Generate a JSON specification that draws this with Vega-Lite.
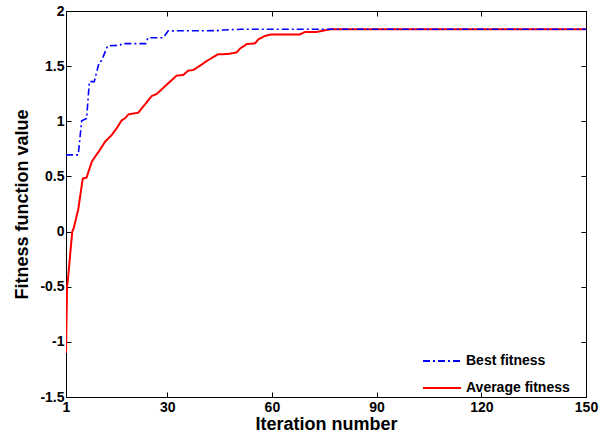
{
  "$schema": "https://vega.github.io/schema/vega-lite/v6.json",
  "width": 520,
  "height": 386,
  "autosize": {"type": "none"},
  "padding": {"left": 66, "top": 11, "right": 20, "bottom": 41},
  "background": "white",
  "config": {
    "view": {"stroke": "black", "strokeWidth": 1},
    "font": "Liberation Sans",
    "axis": {
      "grid": false,
      "domainColor": "black",
      "tickColor": "black",
      "tickSize": -5,
      "labelColor": "black",
      "labelFont": "Liberation Sans",
      "labelFontWeight": "bold",
      "labelFontSize": 14,
      "titleFont": "Liberation Sans",
      "titleFontWeight": "bold",
      "titleFontSize": 18,
      "titleColor": "black"
    },
    "legend": {
      "labelFont": "Liberation Sans",
      "labelFontWeight": "bold",
      "labelFontSize": 14,
      "labelColor": "black"
    }
  },
  "data": {
    "values": [
      {"iter": 1, "value": 0.695, "series": "Best fitness"},
      {"iter": 4.5, "value": 0.695, "series": "Best fitness"},
      {"iter": 5.5, "value": 1.005, "series": "Best fitness"},
      {"iter": 6.9, "value": 1.025, "series": "Best fitness"},
      {"iter": 7.7, "value": 1.36, "series": "Best fitness"},
      {"iter": 9.1, "value": 1.36, "series": "Best fitness"},
      {"iter": 10.5, "value": 1.535, "series": "Best fitness"},
      {"iter": 11.2, "value": 1.55, "series": "Best fitness"},
      {"iter": 12.9, "value": 1.683, "series": "Best fitness"},
      {"iter": 16.5, "value": 1.69, "series": "Best fitness"},
      {"iter": 17, "value": 1.704, "series": "Best fitness"},
      {"iter": 23.8, "value": 1.704, "series": "Best fitness"},
      {"iter": 24.5, "value": 1.758, "series": "Best fitness"},
      {"iter": 28.9, "value": 1.758, "series": "Best fitness"},
      {"iter": 30.3, "value": 1.82, "series": "Best fitness"},
      {"iter": 45, "value": 1.822, "series": "Best fitness"},
      {"iter": 46, "value": 1.828, "series": "Best fitness"},
      {"iter": 51, "value": 1.834, "series": "Best fitness"},
      {"iter": 150, "value": 1.834, "series": "Best fitness"},
      {"iter": 1, "value": -1.1, "series": "Average fitness"},
      {"iter": 1.3, "value": -0.5, "series": "Average fitness"},
      {"iter": 1.66, "value": -0.4, "series": "Average fitness"},
      {"iter": 2.3, "value": -0.17, "series": "Average fitness"},
      {"iter": 2.8, "value": 0.0, "series": "Average fitness"},
      {"iter": 3.2, "value": 0.03, "series": "Average fitness"},
      {"iter": 4.5, "value": 0.2, "series": "Average fitness"},
      {"iter": 5.8, "value": 0.48, "series": "Average fitness"},
      {"iter": 6.9, "value": 0.49, "series": "Average fitness"},
      {"iter": 8.4, "value": 0.634, "series": "Average fitness"},
      {"iter": 9.8, "value": 0.7, "series": "Average fitness"},
      {"iter": 10.7, "value": 0.74, "series": "Average fitness"},
      {"iter": 12.2, "value": 0.815, "series": "Average fitness"},
      {"iter": 14.1, "value": 0.876, "series": "Average fitness"},
      {"iter": 15.5, "value": 0.936, "series": "Average fitness"},
      {"iter": 17, "value": 1.01, "series": "Average fitness"},
      {"iter": 17.9, "value": 1.027, "series": "Average fitness"},
      {"iter": 18.9, "value": 1.063, "series": "Average fitness"},
      {"iter": 21.7, "value": 1.078, "series": "Average fitness"},
      {"iter": 23.1, "value": 1.133, "series": "Average fitness"},
      {"iter": 25.6, "value": 1.23, "series": "Average fitness"},
      {"iter": 27, "value": 1.248, "series": "Average fitness"},
      {"iter": 30.3, "value": 1.345, "series": "Average fitness"},
      {"iter": 32.7, "value": 1.414, "series": "Average fitness"},
      {"iter": 34.6, "value": 1.42, "series": "Average fitness"},
      {"iter": 36, "value": 1.459, "series": "Average fitness"},
      {"iter": 37.5, "value": 1.465, "series": "Average fitness"},
      {"iter": 39.4, "value": 1.504, "series": "Average fitness"},
      {"iter": 41.5, "value": 1.55, "series": "Average fitness"},
      {"iter": 44.6, "value": 1.607, "series": "Average fitness"},
      {"iter": 47.5, "value": 1.61, "series": "Average fitness"},
      {"iter": 49.9, "value": 1.625, "series": "Average fitness"},
      {"iter": 50.9, "value": 1.66, "series": "Average fitness"},
      {"iter": 52.8, "value": 1.7, "series": "Average fitness"},
      {"iter": 55.2, "value": 1.707, "series": "Average fitness"},
      {"iter": 56.1, "value": 1.743, "series": "Average fitness"},
      {"iter": 58, "value": 1.773, "series": "Average fitness"},
      {"iter": 59.9, "value": 1.788, "series": "Average fitness"},
      {"iter": 68, "value": 1.788, "series": "Average fitness"},
      {"iter": 69.5, "value": 1.81, "series": "Average fitness"},
      {"iter": 72.8, "value": 1.81, "series": "Average fitness"},
      {"iter": 76.6, "value": 1.834, "series": "Average fitness"},
      {"iter": 150, "value": 1.834, "series": "Average fitness"}
    ]
  },
  "layer": [
    {
      "transform": [{"filter": "datum.series === 'Average fitness'"}],
      "mark": {"type": "line", "strokeWidth": 2, "clip": true},
      "encoding": {
        "x": {"field": "iter", "type": "quantitative", "scale": {"domain": [1, 150], "nice": false, "zero": false},
              "axis": {"orient": "bottom", "values": [1, 30, 60, 90, 120, 150], "title": "Iteration number", "labelPadding": 8, "titlePadding": 1, "labelFlush": false}},
        "y": {"field": "value", "type": "quantitative", "scale": {"domain": [-1.5, 2], "nice": false, "zero": false},
              "axis": {"orient": "left", "values": [-1.5, -1, -0.5, 0, 0.5, 1, 1.5, 2], "title": "Fitness function value", "labelPadding": 7, "titlePadding": 8, "labelFlush": false,
                       "labelExpr": "datum.value == 0 ? '0' : (datum.value < 0 ? '-' : '') + format(abs(datum.value), '')"}},
        "color": {"field": "series", "type": "nominal", "scale": {"domain": ["Best fitness", "Average fitness"], "range": ["#0000ff", "#ff0000"]},
                  "legend": {"title": null, "orient": "none", "legendX": 356, "legendY": 330, "symbolType": "stroke", "symbolSize": 1444, "symbolStrokeWidth": 2, "rowPadding": -17, "labelOffset": 4}},
        "strokeDash": {"field": "series", "type": "nominal", "scale": {"domain": ["Best fitness", "Average fitness"], "range": [[7, 3, 2, 3], [1, 0]]},
                  "legend": {"title": null, "orient": "none", "legendX": 356, "legendY": 330, "symbolType": "stroke", "symbolSize": 1444, "symbolStrokeWidth": 2, "rowPadding": -17, "labelOffset": 4}}
      }
    },
    {
      "transform": [{"filter": "datum.series === 'Best fitness'"}],
      "mark": {"type": "line", "strokeWidth": 1.6, "clip": true},
      "encoding": {
        "x": {"field": "iter", "type": "quantitative",
              "axis": {"orient": "top", "values": [1, 30, 60, 90, 120, 150], "labels": false, "title": null}},
        "y": {"field": "value", "type": "quantitative",
              "axis": {"orient": "right", "values": [-1.5, -1, -0.5, 0, 0.5, 1, 1.5, 2], "labels": false, "title": null}},
        "color": {"field": "series", "type": "nominal"},
        "strokeDash": {"field": "series", "type": "nominal"}
      }
    }
  ],
  "resolve": {"axis": {"x": "independent", "y": "independent"}}
}
